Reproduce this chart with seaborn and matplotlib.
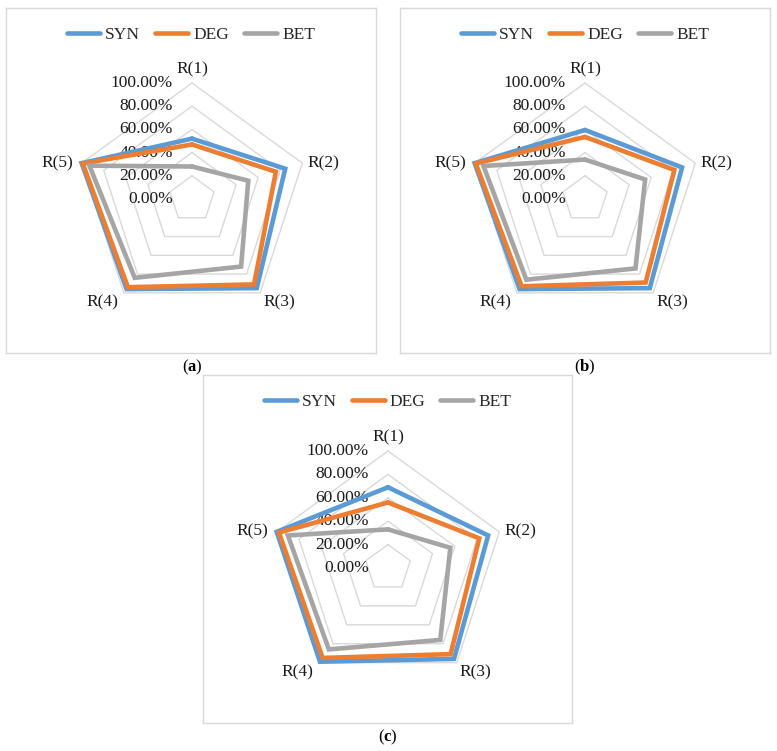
import numpy as np
import pandas as pd
import matplotlib.pyplot as plt
import seaborn as sns

sns.set_theme(style="white")
plt.rcParams['font.family'] = ['Liberation Serif', 'DejaVu Serif']
plt.rcParams['mathtext.fontset'] = 'custom'
plt.rcParams['mathtext.rm'] = 'Liberation Serif'
plt.rcParams['mathtext.bf'] = 'Liberation Serif:bold'

# ======================
# Datos (fracción)
# ======================
categorias = ["R(1)", "R(2)", "R(3)", "R(4)", "R(5)"]
series = ["SYN", "DEG", "BET"]
ticks = [0.0, 0.2, 0.4, 0.6, 0.8, 1.0]

panel_a = {
    "SYN": [0.52, 0.845, 0.95, 0.96, 1.00],
    "DEG": [0.47, 0.76, 0.91, 0.94, 0.99],
    "BET": [0.28, 0.51, 0.72, 0.84, 0.93],
}
panel_b = {
    "SYN": [0.595, 0.88, 0.95, 0.96, 1.00],
    "DEG": [0.535, 0.81, 0.89, 0.93, 0.99],
    "BET": [0.34, 0.545, 0.74, 0.86, 0.92],
}
panel_c = {
    "SYN": [0.69, 0.90, 0.96, 0.99, 1.00],
    "DEG": [0.56, 0.82, 0.91, 0.95, 0.98],
    "BET": [0.33, 0.56, 0.76, 0.86, 0.90],
}

colores = {"SYN": "#5B9BD5", "DEG": "#ED7D31", "BET": "#A5A5A5"}
gris_grid = "#D9D9D9"

W, H = 777, 751
fig = plt.figure(figsize=(W / 100, H / 100), dpi=100)

n = len(categorias)
ang = np.arange(n) * 2 * np.pi / n  # sentido horario desde arriba


def polar_xy(vals):
    vals = np.asarray(vals, dtype=float)
    vals = np.append(vals, vals[0])
    a = np.append(ang, ang[0])
    return vals * np.sin(a), vals * np.cos(a)


def radar(datos, caja, centro, radio, letra):
    x0, y0, x1, y1 = caja
    cx, cy = centro
    ax = fig.add_axes([x0 / W, 1 - y1 / H, (x1 - x0) / W, (y1 - y0) / H])
    ax.set_xlim((x0 - cx) / radio, (x1 - cx) / radio)
    ax.set_ylim((cy - y1) / radio, (cy - y0) / radio)
    ax.set_xticks([])
    ax.set_yticks([])
    for s in ax.spines.values():
        s.set_color(gris_grid)
        s.set_linewidth(1)

    # anillos de la grilla
    for t in ticks[1:]:
        gx, gy = polar_xy([t] * n)
        ax.plot(gx, gy, color=gris_grid, lw=1, zorder=1)

    # etiquetas radiales
    for t in ticks:
        ax.text(-19 / radio, t, f"{t * 100:.2f}%", ha="right", va="center",
                fontsize=12.5, color="#1a1a1a", zorder=2)

    # series
    filas = []
    for s in series:
        px, py = polar_xy(datos[s])
        for i, (a, b) in enumerate(zip(px, py)):
            filas.append({"serie": s, "orden": i, "x": a, "y": b})
    df = pd.DataFrame(filas)
    sns.lineplot(data=df, x="x", y="y", hue="serie", hue_order=series,
                 palette=colores, sort=False, estimator=None, lw=3.3,
                 ax=ax, zorder=3)
    for ln in ax.get_lines():
        ln.set_solid_joinstyle("miter")
    ax.set_xlabel("")
    ax.set_ylabel("")
    sns.move_legend(ax, "upper center", bbox_to_anchor=(0.5, 0.99), ncol=3,
                    frameon=False, title=None, fontsize=12.5,
                    handlelength=1.9, handletextpad=0.3, columnspacing=0.85)
    for h in ax.get_legend().get_lines():
        h.set_linewidth(3.3)

    # etiquetas de categorías
    offs = [((0, 4), "center", "bottom"), ((4, 0), "left", "center"),
            ((2, -1), "left", "top"), ((-4, -1), "right", "top"),
            ((-6, 0), "right", "center")]
    for k, cat in enumerate(categorias):
        vx, vy = np.sin(ang[k]), np.cos(ang[k])
        (ox, oy), ha, va = offs[k]
        ax.annotate(cat, (vx, vy), xytext=(ox, oy), textcoords="offset points",
                    ha=ha, va=va, fontsize=12.5, color="#1a1a1a")

    fig.text(cx / W, 1 - (y1 + 14) / H, f"($\\mathbf{{{letra}}}$)",
             ha="center", va="center", fontsize=12, color="black")


radar(panel_a, (6, 8, 376, 353), (192, 199), 116, "a")
radar(panel_b, (400, 8, 770, 353), (585, 199), 116, "b")
radar(panel_c, (203, 375, 572, 723), (388, 568), 117, "c")

fig.savefig("out.png", dpi=100, facecolor="white")
